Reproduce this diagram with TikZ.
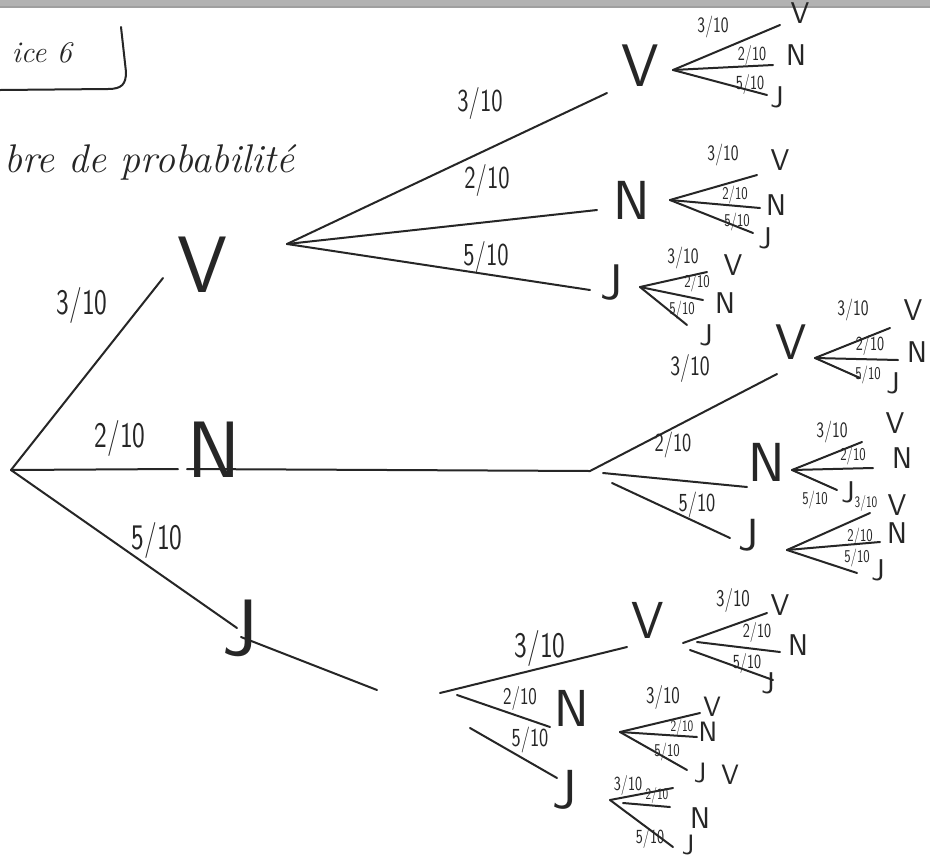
\documentclass[tikz,border=0pt]{standalone}
\usepackage{fontspec}
\usepackage{graphicx}
\definecolor{inkc}{RGB}{38,38,38}
\newcommand\fr[1]{\scalebox{0.75}[1]{#1}}
\tikzset{
  ink/.style={draw=inkc, line width=2pt, line cap=round, line join=round},
  let/.style={font=\sffamily\fontsize{#1}{#1}\selectfont, text=inkc, inner sep=0pt},
  lbl/.style={font=\sffamily\fontsize{#1}{#1}\selectfont, text=inkc, inner sep=0pt},
  hand/.style={font=\itshape\fontsize{#1}{#1}\selectfont, text=inkc, inner sep=0pt}
}
\begin{document}
\begin{tikzpicture}[x=1pt,y=-1pt]
\useasboundingbox (0,0) rectangle (930,863);
\fill[white] (0,0) rectangle (930,863);
\fill[gray!60] (0,0) rectangle (930,8);
\fill[gray!75] (0,6) rectangle (930,8);

% title
\node[hand=30, anchor=base east] (ex) at (72,62) {ice 6};
\draw[ink] (0,90) -- (108,89) .. controls (122,89) and (126,84) .. (126,72) -- (121,27);
\node[hand=40, anchor=base west] (arb) at (4,172) {bre de probabilit\'e};

% ---------- level 1
\coordinate (r0) at (11,470);
\node[let=80] (V1) at (202,265) {V};
\node[let=80] (N1) at (214,450) {N};
\node[let=80] (J1) at (240,628) {J};
\coordinate (eV1) at (163,278);
\coordinate (eN1) at (178,469);
\coordinate (eJ1) at (237,628);
\draw[ink] (r0) -- (eV1);
\draw[ink] (r0) -- (eN1);
\draw[ink] (r0) -- (eJ1);
\node[lbl=36] (p1) at (82,305) {\fr{3/10}};
\node[lbl=36] (p2) at (120,438) {\fr{2/10}};
\node[lbl=36] (p3) at (157,540) {\fr{5/10}};

% ---------- level 2 from V
\coordinate (oV1) at (287,244);
\coordinate (eVV) at (607,93);
\coordinate (eVN) at (597,210);
\coordinate (eVJ) at (590,290);
\draw[ink] (oV1) -- (eVV);
\draw[ink] (oV1) -- (eVN);
\draw[ink] (oV1) -- (eVJ);
\node[let=60] (VV) at (640,66) {V};
\node[let=55] (VN) at (632,200) {N};
\node[let=50] (VJ) at (612,283) {J};
\node[lbl=32] (q1) at (480,103) {\fr{3/10}};
\node[lbl=32] (q2) at (487,180) {\fr{2/10}};
\node[lbl=32] (q3) at (486,257) {\fr{5/10}};

% level 3 from VV
\coordinate (oVV) at (673,70);
\coordinate (a1) at (780,25); \coordinate (a2) at (773,65); \coordinate (a3) at (767,95);
\draw[ink] (oVV) -- (a1); \draw[ink] (oVV) -- (a2); \draw[ink] (oVV) -- (a3);
\node[let=30] (VVV) at (800,13) {V};
\node[let=30] (VVN) at (796,55) {N};
\node[let=30] (VVJ) at (777,97) {J};
\node[lbl=22] at (713,27) {\fr{3/10}};
\node[lbl=20] at (752,55) {\fr{2/10}};
\node[lbl=20] at (750,84) {\fr{5/10}};

% level 3 from VN
\coordinate (oVN) at (670,200);
\coordinate (b1) at (757,175); \coordinate (b2) at (760,208); \coordinate (b3) at (753,233);
\draw[ink] (oVN) -- (b1); \draw[ink] (oVN) -- (b2); \draw[ink] (oVN) -- (b3);
\node[let=30] (VNV) at (780,160) {V};
\node[let=30] (VNN) at (776,205) {N};
\node[let=30] (VNJ) at (765,238) {J};
\node[lbl=22] at (723,155) {\fr{3/10}};
\node[lbl=18] at (735,195) {\fr{2/10}};
\node[lbl=18] at (737,222) {\fr{5/10}};

% level 3 from VJ
\coordinate (oVJ) at (640,287);
\coordinate (c1) at (707,272); \coordinate (c2) at (703,300); \coordinate (c3) at (687,325);
\draw[ink] (oVJ) -- (c1); \draw[ink] (oVJ) -- (c2); \draw[ink] (oVJ) -- (c3);
\node[let=30] (VJV) at (733,265) {V};
\node[let=30] (VJN) at (725,303) {N};
\node[let=30] (VJJ) at (706,335) {J};
\node[lbl=22] at (683,258) {\fr{3/10}};
\node[lbl=18] at (697,283) {\fr{2/10}};
\node[lbl=18] at (682,310) {\fr{5/10}};

% ---------- level 2 from N
\coordinate (sN1) at (187,469);
\coordinate (oN1) at (590,471);
\draw[ink] (sN1) -- (oN1);
\coordinate (sNN) at (603,473);
\coordinate (sNJ) at (612,483);
\coordinate (eNV) at (777,374);
\coordinate (eNN) at (747,487);
\coordinate (eNJ) at (730,538);
\draw[ink] (oN1) -- (eNV);
\draw[ink] (sNN) -- (eNN);
\draw[ink] (sNJ) -- (eNJ);
\node[let=50] (NV) at (791,342) {V};
\node[let=55] (NN) at (767,462) {N};
\node[let=45] (NJ) at (748,535) {J};
\node[lbl=28] (s1) at (690,368) {\fr{3/10}};
\node[lbl=26] (s2) at (673,445) {\fr{2/10}};
\node[lbl=26] (s3) at (697,505) {\fr{5/10}};

% level 3 from NV
\coordinate (oNV) at (815,358);
\coordinate (d1) at (890,328); \coordinate (d2) at (898,360); \coordinate (d3) at (860,378);
\draw[ink] (oNV) -- (d1); \draw[ink] (oNV) -- (d2); \draw[ink] (oNV) -- (d3);
\node[let=30] (NVV) at (913,310) {V};
\node[let=30] (NVN) at (917,352) {N};
\node[let=30] (NVJ) at (893,383) {J};
\node[lbl=22] at (853,310) {\fr{3/10}};
\node[lbl=20] at (870,345) {\fr{2/10}};
\node[lbl=18] at (868,375) {\fr{5/10}};

% level 3 from NN
\coordinate (oNN) at (792,470);
\coordinate (e1) at (862,442); \coordinate (e2) at (873,468); \coordinate (e3) at (837,490);
\draw[ink] (oNN) -- (e1); \draw[ink] (oNN) -- (e2); \draw[ink] (oNN) -- (e3);
\node[let=30] (NNV) at (895,423) {V};
\node[let=30] (NNN) at (902,458) {N};
\node[let=30] (NNJ) at (848,492) {J};
\node[lbl=22] at (832,432) {\fr{3/10}};
\node[lbl=18] at (853,456) {\fr{2/10}};
\node[lbl=18] at (815,500) {\fr{5/10}};

% level 3 from NJ
\coordinate (oNJ) at (787,550);
\coordinate (f1) at (870,513); \coordinate (f2) at (880,542); \coordinate (f3) at (857,573);
\draw[ink] (oNJ) -- (f1); \draw[ink] (oNJ) -- (f2); \draw[ink] (oNJ) -- (f3);
\node[let=30] (NJV) at (897,505) {V};
\node[let=30] (NJN) at (897,533) {N};
\node[let=30] (NJJ) at (878,570) {J};
\node[lbl=16] at (866,503) {\fr{3/10}};
\node[lbl=18] at (860,537) {\fr{2/10}};
\node[lbl=18] at (857,558) {\fr{5/10}};

% ---------- level 2 from J
\coordinate (sJ1) at (241,637);
\coordinate (tJ1) at (377,690);
\draw[ink] (sJ1) -- (tJ1);
\coordinate (oJ1) at (440,693);
\coordinate (sJN) at (457,695);
\coordinate (sJJ) at (470,728);
\coordinate (eJV) at (627,647);
\coordinate (eJN) at (550,727);
\coordinate (eJJ) at (557,778);
\draw[ink] (oJ1) -- (eJV);
\draw[ink] (sJN) -- (eJN);
\draw[ink] (sJJ) -- (eJJ);
\node[let=52] (JV) at (648,620) {V};
\node[let=52] (JN) at (572,708) {N};
\node[let=55] (JJ) at (565,790) {J};
\node[lbl=36] (u1) at (540,648) {\fr{3/10}};
\node[lbl=24] (u2) at (520,698) {\fr{2/10}};
\node[lbl=26] (u3) at (530,740) {\fr{5/10}};

% level 3 from JV
\coordinate (oJV) at (683,643);
\coordinate (g2s) at (697,642); \coordinate (g3s) at (690,650);
\coordinate (g1) at (767,613); \coordinate (g2) at (780,652); \coordinate (g3) at (773,680);
\draw[ink] (oJV) -- (g1); \draw[ink] (g2s) -- (g2); \draw[ink] (g3s) -- (g3);
\node[let=30] (JVV) at (780,605) {V};
\node[let=30] (JVN) at (798,645) {N};
\node[let=30] (JVJ) at (768,683) {J};
\node[lbl=24] at (733,600) {\fr{3/10}};
\node[lbl=20] at (757,632) {\fr{2/10}};
\node[lbl=20] at (747,663) {\fr{5/10}};

% level 3 from JN
\coordinate (oJN) at (620,732);
\coordinate (h1) at (700,713); \coordinate (h2) at (697,737); \coordinate (h3) at (687,770);
\draw[ink] (oJN) -- (h1); \draw[ink] (oJN) -- (h2); \draw[ink] (oJN) -- (h3);
\node[let=28] (JNV) at (712,707) {V};
\node[let=28] (JNN) at (708,732) {N};
\node[let=28] (JNJ) at (700,773) {J};
\node[lbl=24] at (663,697) {\fr{3/10}};
\node[lbl=16] at (682,727) {\fr{2/10}};
\node[lbl=18] at (667,752) {\fr{5/10}};

% level 3 from JJ
\coordinate (oJJ) at (610,800);
\coordinate (k2s) at (623,803);
\coordinate (k1) at (673,788); \coordinate (k2) at (670,807); \coordinate (k3) at (673,847);
\draw[ink] (oJJ) -- (k1); \draw[ink] (k2s) -- (k2); \draw[ink] (oJJ) -- (k3);
\node[let=28] (JJV) at (730,775) {V};
\node[let=30] (JJN) at (700,818) {N};
\node[let=28] (JJJ) at (688,845) {J};
\node[lbl=20] at (628,785) {\fr{3/10}};
\node[lbl=16] at (657,795) {\fr{2/10}};
\node[lbl=20] at (650,838) {\fr{5/10}};
\end{tikzpicture}
\end{document}
